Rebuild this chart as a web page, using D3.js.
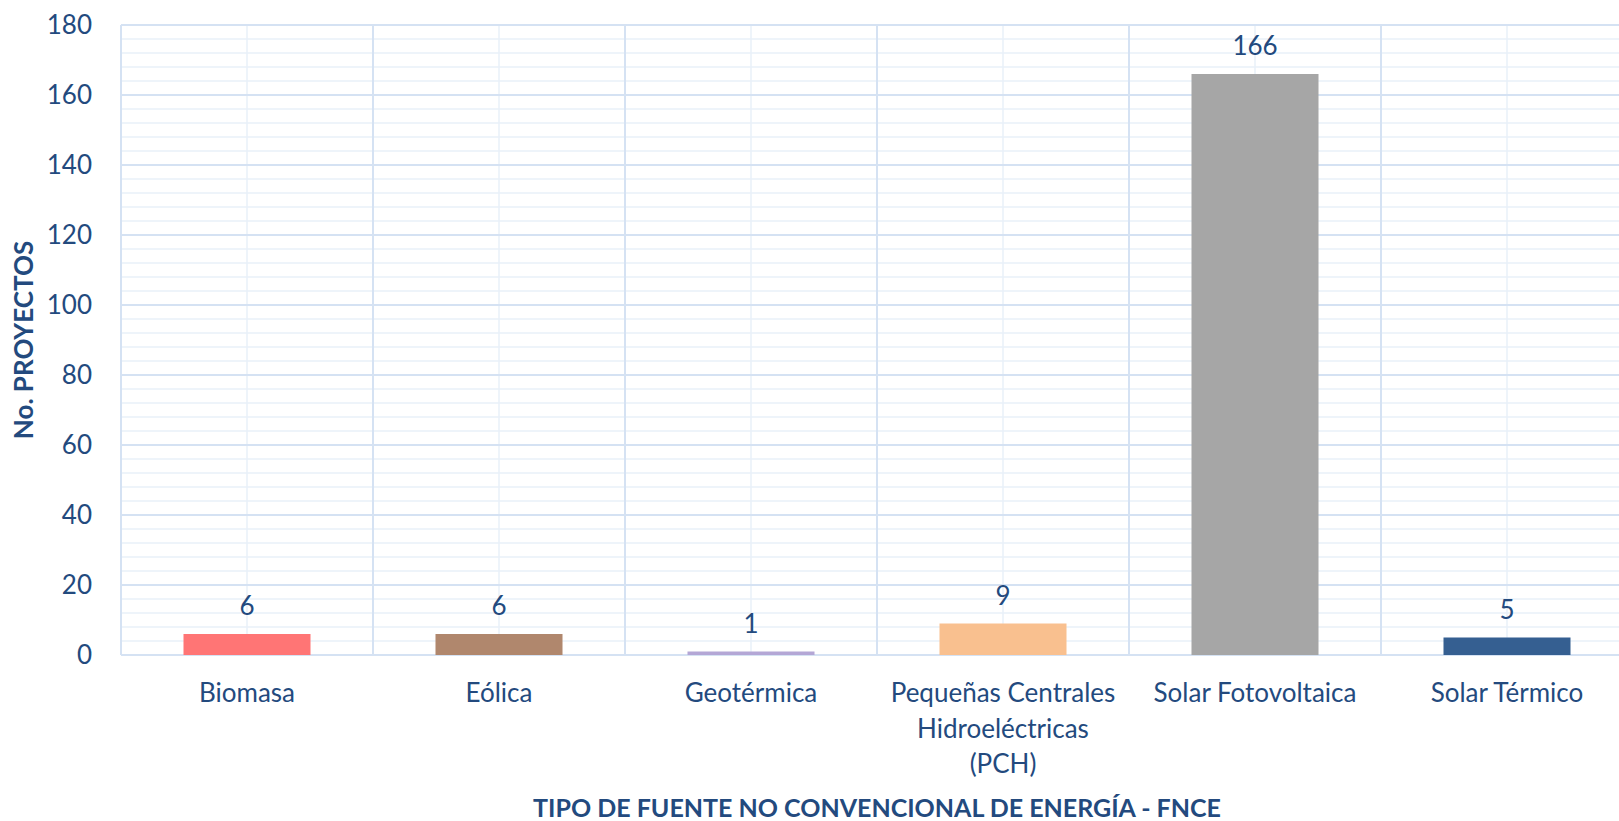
<!DOCTYPE html>
<html>
<head>
<meta charset="utf-8">
<script src="https://cdn.jsdelivr.net/npm/d3@7"></script>
<style>
  body { margin: 0; background: #ffffff; }
  text { font-family: Lato, "Open Sans", sans-serif; fill: #234A7E; }
</style>
</head>
<body>
<div id="chart"></div>
<script>
// data
const categories = ["Biomasa", "Eólica", "Geotérmica", "Pequeñas Centrales Hidroeléctricas (PCH)", "Solar Fotovoltaica", "Solar Térmico"];
const labelLines = [["Biomasa"], ["Eólica"], ["Geotérmica"], ["Pequeñas Centrales", "Hidroeléctricas", "(PCH)"], ["Solar Fotovoltaica"], ["Solar Térmico"]];
const values = [6, 6, 1, 9, 166, 5];
const colors = ["#FF7575", "#B0876D", "#B4A7D6", "#F9C08F", "#A6A6A6", "#355F91"];
const yTicks = [0, 20, 40, 60, 80, 100, 120, 140, 160, 180];

const W = 1619, H = 821;
// plot runs past the right edge, like the original crop
const x0 = 121, x1 = 1633, yTop = 25, yBottom = 655;

const svg = d3.select("#chart")
    .append("svg")
    .attr("width", W)
    .attr("height", H);

const x = d3.scaleBand()
    .domain(categories)
    .range([x0, x1])
    .padding(0);

const y = d3.scaleLinear()
    .domain([0, 180])
    .range([yBottom, yTop]);

// minor grid, every 4
const grid = svg.append("g");
grid.selectAll(".minor-h")
    .data(d3.range(0, 181, 4).filter(v => v % 20 !== 0))
    .enter().append("line")
    .attr("x1", x0).attr("x2", x1)
    .attr("y1", d => y(d)).attr("y2", d => y(d))
    .attr("stroke", "#E9F0F9").attr("stroke-width", 1.5);

// minor vertical at category centres
grid.selectAll(".minor-v")
    .data(categories)
    .enter().append("line")
    .attr("x1", d => x(d) + x.bandwidth() / 2).attr("x2", d => x(d) + x.bandwidth() / 2)
    .attr("y1", yTop).attr("y2", yBottom)
    .attr("stroke", "#E9F0F9").attr("stroke-width", 1.5);

// major grid
grid.selectAll(".major-h")
    .data(yTicks)
    .enter().append("line")
    .attr("x1", x0).attr("x2", x1)
    .attr("y1", d => y(d)).attr("y2", d => y(d))
    .attr("stroke", "#D5E2F3").attr("stroke-width", 2);

grid.selectAll(".major-v")
    .data(categories)
    .enter().append("line")
    .attr("x1", d => x(d)).attr("x2", d => x(d))
    .attr("y1", yTop).attr("y2", yBottom)
    .attr("stroke", "#D5E2F3").attr("stroke-width", 2);

// Y axis labels
const yAxis = svg.append("g")
    .attr("transform", "translate(" + x0 + ",0)")
    .call(d3.axisLeft(y).tickValues(yTicks).tickSize(0).tickPadding(29));
yAxis.select(".domain").remove();
yAxis.selectAll("text")
    .attr("font-size", 26)
    .attr("font-family", "Lato, sans-serif")
    .attr("fill", "#234A7E");

// Bars
const barW = x.bandwidth() * 0.504;
svg.selectAll("mybar")
    .data(values)
    .enter()
    .append("rect")
    .attr("x", (d, i) => x(categories[i]) + (x.bandwidth() - barW) / 2)
    .attr("y", d => y(d))
    .attr("width", barW)
    .attr("height", d => yBottom - y(d))
    .attr("fill", (d, i) => colors[i]);

// value labels
svg.selectAll(".val")
    .data(values)
    .enter().append("text")
    .attr("x", (d, i) => x(categories[i]) + x.bandwidth() / 2)
    .attr("y", d => y(d) - 19)
    .attr("text-anchor", "middle")
    .attr("font-size", 26)
    .text(d => d);

// X axis labels, wrapped like the original
const xl = svg.append("g");
labelLines.forEach((lines, i) => {
    const t = xl.append("text")
        .attr("x", x(categories[i]) + x.bandwidth() / 2)
        .attr("y", 702)
        .attr("text-anchor", "middle")
        .attr("font-size", 26);
    lines.forEach((s, j) => {
        t.append("tspan")
            .attr("x", x(categories[i]) + x.bandwidth() / 2)
            .attr("dy", j === 0 ? 0 : 35.5)
            .text(s);
    });
});

// axis titles
svg.append("text")
    .attr("x", (x0 + x1) / 2)
    .attr("y", 817)
    .attr("text-anchor", "middle")
    .attr("font-size", 25)
    .attr("font-weight", "bold")
    .text("TIPO DE FUENTE NO CONVENCIONAL DE ENERGÍA - FNCE");

svg.append("text")
    .attr("transform", "translate(33," + ((yTop + yBottom) / 2) + ") rotate(-90)")
    .attr("text-anchor", "middle")
    .attr("font-size", 26)
    .attr("font-weight", "bold")
    .text("No. PROYECTOS");
</script>
</body>
</html>
